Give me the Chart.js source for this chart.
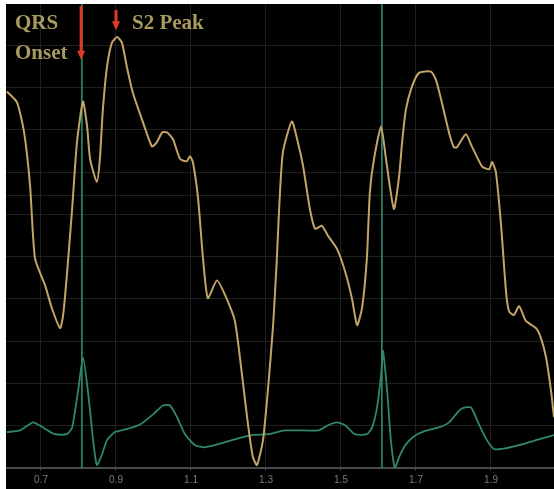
<!DOCTYPE html>
<html>
<head>
<meta charset="utf-8">
<script src="https://cdn.jsdelivr.net/npm/chart.js@4"></script>
<style>
  html, body { margin: 0; padding: 0; background: #fff; }
  #ecg { position: absolute; left: 6px; top: 4px; }
</style>
</head>
<body>
<canvas id="ecg" width="548" height="485"></canvas>
<script>
// trace pression (jaune) : temps (s) / valeur
const pressureT = [0.609, 0.636, 0.655, 0.671, 0.684, 0.711, 0.729, 0.751, 0.759, 0.769, 0.783, 0.796, 0.812, 0.823, 0.831, 0.849,
  0.857, 0.865, 0.876, 0.889, 0.903, 0.916, 0.929, 0.945, 0.972, 0.996, 1.009, 1.023, 1.036, 1.052, 1.071, 1.089, 1.097, 1.105,
  1.119, 1.132, 1.145, 1.169, 1.191, 1.217, 1.236, 1.252, 1.265, 1.276, 1.292, 1.305, 1.319, 1.329, 1.335, 1.345, 1.369, 1.385,
  1.399, 1.417, 1.431, 1.449, 1.465, 1.489, 1.511, 1.529, 1.543, 1.556, 1.569, 1.577, 1.588, 1.607, 1.620, 1.641, 1.655, 1.663,
  1.673, 1.689, 1.708, 1.740, 1.753, 1.767, 1.788, 1.801, 1.809, 1.833, 1.849, 1.876, 1.895, 1.903, 1.913, 1.927, 1.940, 1.948,
  1.961, 1.975, 1.993, 2.020, 2.033, 2.047, 2.060, 2.068];
const pressureV = [8.91, 8.65, 7.94, 6.67, 4.96, 4.32, 3.78, 3.31, 3.62, 4.56, 6.13, 7.71, 8.67, 8.08, 7.31, 6.77,
  7.31, 8.48, 9.49, 10.06, 10.20, 10.06, 9.49, 8.88, 8.18, 7.61, 7.71, 7.94, 7.94, 7.78, 7.31, 7.26, 7.38, 7.24,
  6.37, 4.96, 4.02, 4.44, 4.09, 3.48, 2.21, 1.03, 0.26, 0.07, 0.66, 1.83, 3.38, 4.96, 6.13, 7.47, 8.20, 7.71,
  7.14, 6.13, 5.66, 5.73, 5.50, 5.19, 4.65, 4.02, 3.38, 3.78, 4.96, 6.53, 7.31, 8.08, 7.31, 6.13, 6.91, 7.71,
  8.48, 9.02, 9.35, 9.38, 9.19, 8.72, 7.94, 7.59, 7.59, 7.90, 7.61, 7.14, 7.07, 7.24, 7.00, 5.73, 4.18, 3.71,
  3.62, 3.83, 3.48, 3.31, 3.08, 2.61, 1.83, 1.20];

// trace ECG (vert)
const ecgT = [0.609, 0.644, 0.679, 0.705, 0.737, 0.769, 0.783, 0.799, 0.812, 0.825, 0.839, 0.849, 0.863, 0.876, 0.897, 0.929,
  0.964, 0.999, 1.025, 1.044, 1.063, 1.084, 1.111, 1.137, 1.172, 1.217, 1.263, 1.305, 1.351, 1.439, 1.465, 1.489, 1.511,
  1.537, 1.569, 1.583, 1.596, 1.607, 1.612, 1.623, 1.633, 1.644, 1.655, 1.673, 1.700, 1.729, 1.761, 1.788, 1.815, 1.828,
  1.847, 1.868, 1.889, 1.908, 1.929, 1.975, 2.020, 2.068];
const ecgV = [0.85, 0.89, 1.08, 0.96, 0.80, 0.80, 0.96, 1.83, 2.61, 1.83, 0.66, 0.07, 0.33, 0.66, 0.85, 0.92,
  1.03, 1.27, 1.48, 1.48, 1.20, 0.80, 0.54, 0.49, 0.56, 0.68, 0.78, 0.80, 0.89, 0.89, 1.01, 1.08, 1.01,
  0.80, 0.80, 0.96, 1.43, 2.21, 2.77, 1.83, 0.66, 0.00, 0.26, 0.56, 0.78, 0.89, 0.96, 1.08, 1.36, 1.43,
  1.43, 1.03, 0.66, 0.45, 0.45, 0.54, 0.66, 0.78];

const qrsOnsets = [0.809, 1.609];
const xTicks = [0.7, 0.9, 1.1, 1.3, 1.5, 1.7, 1.9];
const yGrid = [0, 1, 2, 3, 4, 5, 6, 6.44, 7, 8, 9, 10];

// flèches : temps, haut, pointe
const arrows = [
  { t: 0.807, top: 10.93, tip: 9.66 },
  { t: 0.900, top: 10.84, tip: 10.36 }
];

const toPoints = (ts, vs) => ts.map((t, i) => ({ x: t, y: vs[i] }));

const overlay = {
  id: 'overlay',
  beforeDraw(chart) {
    const ctx = chart.ctx;
    ctx.save();
    ctx.fillStyle = '#000';
    ctx.fillRect(0, 0, chart.width, chart.height);
    ctx.restore();
  },
  beforeDatasetsDraw(chart) {
    const { ctx, chartArea, scales } = chart;
    ctx.save();
    ctx.strokeStyle = '#2b7d63';
    ctx.lineWidth = 1.8;
    for (const t of qrsOnsets) {
      const x = scales.x.getPixelForValue(t);
      ctx.beginPath();
      ctx.moveTo(x, chartArea.top);
      ctx.lineTo(x, chartArea.bottom);
      ctx.stroke();
    }
    ctx.restore();
  },
  afterDraw(chart) {
    const { ctx, scales } = chart;
    ctx.save();
    ctx.strokeStyle = '#e03a22';
    ctx.fillStyle = '#e03a22';
    ctx.lineWidth = 3;
    for (const a of arrows) {
      const x = scales.x.getPixelForValue(a.t);
      const y0 = scales.y.getPixelForValue(a.top);
      const y1 = scales.y.getPixelForValue(a.tip);
      ctx.beginPath();
      ctx.moveTo(x, y0);
      ctx.lineTo(x, y1 - 7);
      ctx.stroke();
      ctx.beginPath();
      ctx.moveTo(x - 4, y1 - 9);
      ctx.lineTo(x + 4, y1 - 9);
      ctx.lineTo(x, y1);
      ctx.closePath();
      ctx.fill();
    }
    ctx.fillStyle = '#a99b60';
    ctx.font = 'bold 21px "Liberation Serif"';
    ctx.textBaseline = 'alphabetic';
    ctx.fillText('QRS', 9, 25);
    ctx.fillText('Onset', 9, 55);
    ctx.fillText('S2 Peak', 126, 25);
    ctx.restore();
  }
};

new Chart(document.getElementById('ecg'), {
  type: 'line',
  data: {
    datasets: [
      {
        label: 'Pression',
        data: toPoints(pressureT, pressureV),
        borderColor: '#c4a466',
        borderWidth: 2,
        pointRadius: 0,
        tension: 0.2
      },
      {
        label: 'ECG',
        data: toPoints(ecgT, ecgV),
        borderColor: '#2f8a64',
        borderWidth: 1.8,
        pointRadius: 0,
        tension: 0.2
      }
    ]
  },
  options: {
    responsive: false,
    animation: false,
    layout: { padding: 0 },
    plugins: {
      legend: { display: false },
      tooltip: { enabled: false }
    },
    scales: {
      x: {
        type: 'linear',
        min: 0.6067,
        max: 2.068,
        afterBuildTicks: scale => { scale.ticks = xTicks.map(v => ({ value: v })); },
        ticks: {
          color: '#7a7a7a',
          font: { family: 'Liberation Sans', size: 10 },
          padding: 3,
          maxRotation: 0,
          autoSkip: false,
          callback: v => v.toFixed(1)
        },
        grid: { color: '#1f1f1f', tickLength: 3, tickColor: '#333' },
        border: { color: '#4a4a4a', width: 2 }
      },
      y: {
        min: 0,
        max: 10.98,
        afterBuildTicks: scale => { scale.ticks = yGrid.map(v => ({ value: v })); },
        ticks: { display: false },
        grid: { color: '#1f1f1f', drawTicks: false },
        border: { display: false }
      }
    }
  },
  plugins: [overlay]
});
</script>
</body>
</html>
